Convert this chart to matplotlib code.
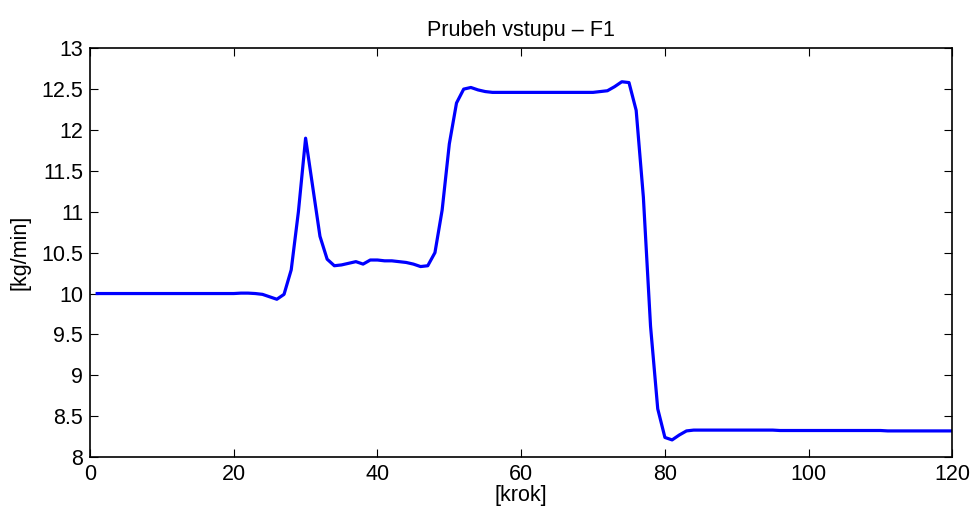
import numpy as np
import matplotlib
matplotlib.use("Agg")
import matplotlib.pyplot as plt

plt.rcParams['font.family'] = ['Liberation Sans', 'DejaVu Sans']

# input profile F1, one value per step (steps 1..120)
steps = np.arange(1, 121)
f1 = ([10.0] * 19 +
      [10.0, 10.005, 10.005, 10.0, 9.99, 9.96, 9.93, 9.99, 10.29, 11.0, 11.9,
       11.3, 10.7, 10.42, 10.34, 10.35, 10.37, 10.39, 10.36, 10.41, 10.41,
       10.4, 10.4, 10.39, 10.38, 10.36, 10.33, 10.34, 10.5, 11.02, 11.83,
       12.33, 12.5, 12.52, 12.49, 12.47, 12.46, 12.46, 12.46, 12.46, 12.46,
       12.46, 12.46, 12.46, 12.46, 12.46, 12.46, 12.46, 12.46, 12.46, 12.46,
       12.47, 12.48, 12.53, 12.59, 12.58, 12.24, 11.18, 9.6, 8.59, 8.24,
       8.21, 8.27, 8.32, 8.33, 8.33] +
      [8.33] * 10 + [8.325] * 15 + [8.32] * 10)

fig = plt.figure(figsize=(9.75, 5.13), dpi=100)
ax = fig.add_axes([0.0923, 0.109, 0.8845, 0.797])
ax.plot(steps, f1, color='#0000ff', linewidth=2.3)

ax.set_xlim(0, 120)
ax.set_ylim(8, 13)
ax.set_xticks(np.arange(0, 121, 20))
ax.set_yticks(np.arange(8, 13.01, 0.5))
ax.set_yticklabels(['8', '8.5', '9', '9.5', '10', '10.5', '11', '11.5',
                    '12', '12.5', '13'])
ax.tick_params(direction='in', length=6, labelsize=15.5, top=True, right=True,
               width=0.8, pad=5)
for s in ax.spines.values():
    s.set_linewidth(1.2)

ax.set_title('Prubeh vstupu – F1', fontsize=15.5, pad=9)
ax.set_xlabel('[krok]', fontsize=15.5, labelpad=0)
ax.set_ylabel('[kg/min]', fontsize=15.5, labelpad=8)

fig.savefig('out.png', dpi=100)
